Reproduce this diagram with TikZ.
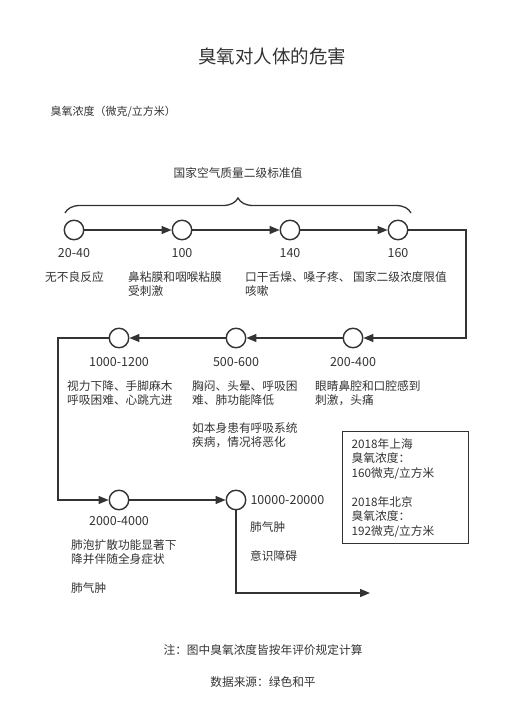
\documentclass[tikz,border=0pt]{standalone}
\usepackage{fontspec}
\setmainfont{Noto Sans CJK SC}
\usepackage{tikz}
\usetikzlibrary{calc,positioning,arrows.meta,decorations.pathreplacing}
\definecolor{ink}{HTML}{333333}

\begin{document}
\begin{tikzpicture}[x=1pt,y=-1pt, ink,
    every node/.style={font=\fontsize{11.7}{14.5}\selectfont, text=ink},
    level/.style={circle,draw=ink,line width=1.4pt,fill=white,minimum size=19.5pt,inner sep=0pt},
    num/.style={font=\fontsize{12.5}{15}\selectfont},
    desc/.style={anchor=north west,align=left,inner sep=0pt},
    flow/.style={draw=ink,line width=1.4pt,-{Triangle[length=10pt,width=8pt]}}]
            \useasboundingbox (0,0) rectangle (528,708);

            % titles
            \node[font=\fontsize{18.5}{21}\selectfont] (title) at (272,56) {臭氧对人体的危害};
            \node[anchor=west,font=\fontsize{11}{13}\selectfont] (unit) at (47,112) {臭氧浓度（微克/立方米）};

            % first row
            \node[level] (c1) at (74,230) {};
            \node[level] (c2) at (182,230) {};
            \node[level] (c3) at (290,230) {};
            \node[level] (c4) at (398,230) {};
            \node[num] (n1) at (74,253) {20-40};
            \node[num] (n2) at (182,253) {100};
            \node[num] (n3) at (290,253) {140};
            \node[num] (n4) at (398,253) {160};
            \node[desc] (t1) at (45,271) {无不良反应};
            \node[desc] (t2) at (128,271) {鼻粘膜和咽喉粘膜\\受刺激};
            \node[desc] (t3) at (245,271) {口干舌燥、嗓子疼、\\咳嗽};
            \node[desc] (t4) at (353,271) {国家二级浓度限值};

            % brace over the standard values
            \draw[line width=1.3pt,decorate,decoration={brace,amplitude=15pt}] (65,213) -- (411,213);
            \node (std) at (238,173) {国家空气质量二级标准值};

            % second row
            \node[level] (d1) at (119,338) {};
            \node[level] (d2) at (236,338) {};
            \node[level] (d3) at (353,338) {};
            \node[num] (m1) at (119,362) {1000-1200};
            \node[num] (m2) at (236,362) {500-600};
            \node[num] (m3) at (353,362) {200-400};
            \node[desc] (s1) at (67,380) {视力下降、手脚麻木\\呼吸困难、心跳亢进};
            \node[desc] (s2) at (192,380) {胸闷、头晕、呼吸困\\难、肺功能降低};
            \node[desc] (s3) at (315,380) {眼睛鼻腔和口腔感到\\刺激，头痛};
            \node[desc] (s4) at (192,422) {如本身患有呼吸系统\\疾病，情况将恶化};

            % third row
            \node[level] (e1) at (119,500) {};
            \node[level] (e2) at (236,500) {};
            \node[num] (k1) at (119,521) {2000-4000};
            \node[num,anchor=west] (k2) at (247,500) {10000-20000};
            \node[desc] (u1) at (71,539) {肺泡扩散功能显著下\\降并伴随全身症状};
            \node[desc] (u2) at (71,582) {肺气肿};
            \node[desc] (v1) at (250,521) {肺气肿};
            \node[desc] (v2) at (250,550) {意识障碍};

            % 2018 values
            \node[draw=ink,line width=1.4pt,anchor=north west,align=left,text width=108pt,inner xsep=9pt,inner ysep=6pt,
                  minimum height=112pt] (box) at (342,431)
                  {2018年上海\\臭氧浓度：\\160微克/立方米\\[14.5pt]2018年北京\\臭氧浓度：\\192微克/立方米};

            % connections
            \coordinate (r1) at (466,230);
            \coordinate (l1) at (58,338);
            \coordinate (end) at (370,593);
            \draw[flow] (c1) -- (c2);
            \draw[flow] (c2) -- (c3);
            \draw[flow] (c3) -- (c4);
            \draw[flow] (c4) -- (r1) |- (d3);
            \draw[flow] (d3) -- (d2);
            \draw[flow] (d2) -- (d1);
            \draw[flow] (d1) -- (l1) |- (e1);
            \draw[flow] (e1) -- (e2);
            \draw[flow] (e2) |- (end);

            % notes
            \node (note) at (263,650) {注：图中臭氧浓度皆按年评价规定计算};
            \node (src) at (263,682) {数据来源：绿色和平};
\end{tikzpicture}
\end{document}
